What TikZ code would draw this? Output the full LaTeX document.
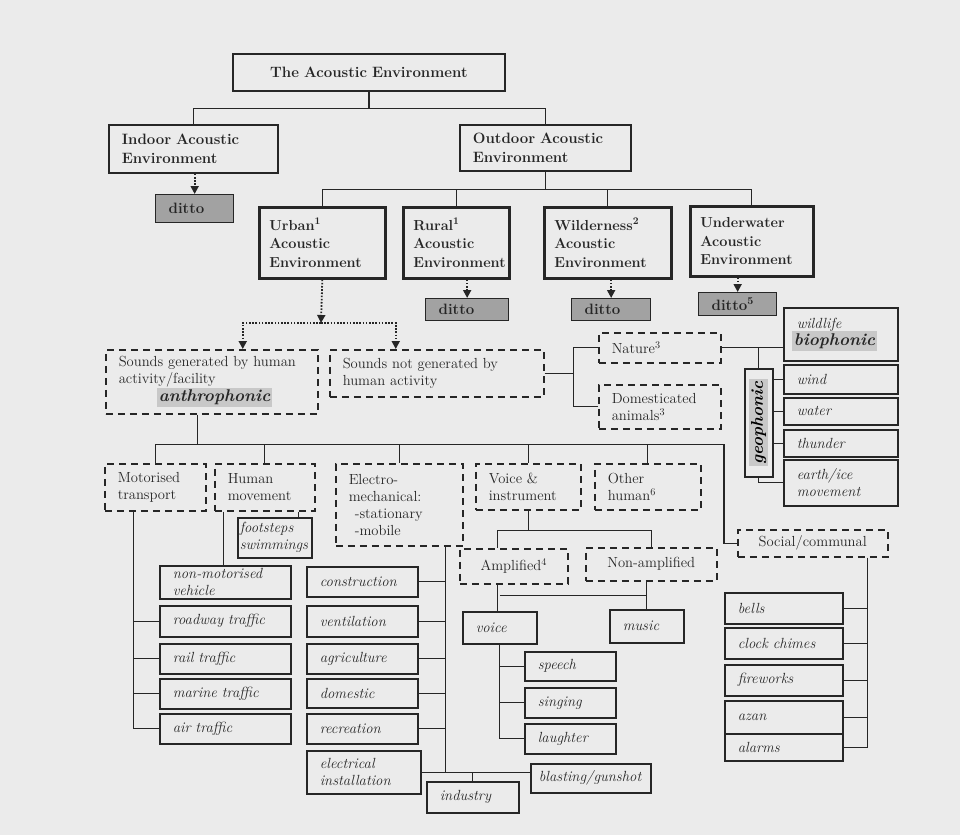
\documentclass[tikz,border=0pt]{standalone}
\usetikzlibrary{arrows.meta}
\definecolor{ink}{HTML}{262626}
\definecolor{page}{HTML}{EBEBEB}
\definecolor{shade}{HTML}{A2A2A2}
\definecolor{hl}{HTML}{C8C8C8}
\setlength{\fboxsep}{2pt}
\newcommand{\hlfont}{\fontsize{17}{19}\selectfont\bfseries\itshape}
\tikzset{
  sz/.code 2 args={\pgfmathsetmacro\tw{#1-2*\pgfkeysvalueof{/pgf/inner xsep}}%
    \pgfkeysalso{minimum width=#1pt,minimum height=#2pt,text width=\tw pt}},
  conn/.style={draw=ink,line width=1.2pt},
  dotarr/.style={draw=ink,line width=1.8pt,dash pattern=on 1.6pt off 1.6pt,-{Triangle[width=8pt,length=8pt]}},
  base/.style={draw=ink,anchor=north west,inner xsep=13pt,inner ysep=2pt,align=left,text=ink,font=\fontsize{14.6}{17}\selectfont},
  envbox/.style={base,line width=1.8pt,font=\fontsize{15}{18.5}\selectfont\bfseries},
  subenv/.style={envbox,line width=2.6pt,inner xsep=10pt,font=\fontsize{14.5}{18.5}\selectfont\bfseries},
  dittobox/.style={envbox,fill=shade,line width=1.3pt},
  grp/.style={base,line width=1.5pt,dash pattern=on 7pt off 5pt},
  leaf/.style={base,line width=1.5pt,font=\fontsize{14.7}{17}\selectfont\itshape},
}
\begin{document}
\begin{tikzpicture}[x=1pt,y=-1pt]
\path[use as bounding box,fill=page] (0,0) rectangle (960,835);

\node[envbox,align=center,sz={272}{37}] (top) at (232,53) {The Acoustic Environment};
\node[envbox,sz={169}{48}] (indoor) at (108,124) {Indoor Acoustic\\Environment};
\node[envbox,sz={171}{46}] (outdoor) at (459,124) {Outdoor Acoustic\\Environment};
\node[dittobox,sz={78}{28}] (ditto0) at (155,194) {ditto};
\node[subenv,sz={126}{71}] (urban) at (258,206) {Urban\textsuperscript{1}\\Acoustic\\Environment};
\node[subenv,sz={106}{71}] (rural) at (402,206) {Rural\textsuperscript{1}\\Acoustic\\Environment};
\node[subenv,sz={127}{71}] (wild) at (543,206) {Wilderness\textsuperscript{2}\\Acoustic\\Environment};
\node[subenv,sz={123}{70}] (under) at (689,205) {Underwater\\Acoustic\\Environment};
\node[dittobox,sz={83}{22}] (ditto1) at (425,298) {ditto};
\node[dittobox,sz={79}{22}] (ditto2) at (571,298) {ditto};
\node[dittobox,sz={78}{23}] (ditto3) at (698,292) {ditto\textsuperscript{5}};

\node[grp,sz={212}{64}] (sg) at (105,349) {Sounds generated by human\\activity/facility\\\hspace*{38pt}\colorbox{hl}{\hlfont anthrophonic}};
\node[grp,sz={214}{47}] (sng) at (329,349) {Sounds not generated by\\human activity};
\node[grp,sz={122}{30}] (nature) at (598,332) {Nature\textsuperscript{3}};
\node[grp,sz={122}{44}] (dom) at (598,384) {Domesticated\\animals\textsuperscript{3}};
\node[leaf,sz={114}{53}] (wildlife) at (783,307) {wildlife\\\hspace*{-5pt}\colorbox{hl}{\hlfont biophonic}};
\node[draw=ink,line width=1.5pt,anchor=north west,inner sep=0pt,minimum width=28pt,minimum height=108pt] (geo) at (744,368) {\rotatebox{90}{\colorbox{hl}{\hlfont geophonic}}};
\node[leaf,sz={114}{29}] (wind) at (783,364) {wind};
\node[leaf,sz={114}{27}] (water) at (783,397) {water};
\node[leaf,sz={114}{27}] (thunder) at (783,429) {thunder};
\node[leaf,sz={114}{46}] (earth) at (783,459) {earth/ice\\movement};

\node[grp,sz={101}{47}] (motor) at (104,463) {Motorised\\transport};
\node[grp,sz={100}{47}] (human) at (214,463) {Human\\movement};
\node[grp,sz={127}{82}] (electro) at (335,463) {Electro-\\mechanical:\\\hspace*{6pt}-stationary\\\hspace*{6pt}-mobile};
\node[grp,sz={105}{46}] (voicei) at (475,463) {Voice \&\\instrument};
\node[grp,sz={106}{46}] (other) at (594,463) {Other\\human\textsuperscript{6}};
\node[grp,align=center,sz={150}{27}] (social) at (737,529) {Social/communal};
\node[leaf,inner xsep=2pt,sz={74}{40}] (foot) at (237,517) {footsteps\\swimmings};

\node[leaf,sz={131}{33}] (nonmot) at (159,565) {non-motorised\\vehicle};
\node[leaf,sz={131}{31}] (road) at (159,605) {roadway traffic};
\node[leaf,sz={131}{30}] (rail) at (159,643) {rail traffic};
\node[leaf,sz={131}{30}] (marine) at (159,678) {marine traffic};
\node[leaf,sz={131}{30}] (air) at (159,713) {air traffic};

\node[leaf,sz={111}{30}] (constr) at (306,566) {construction};
\node[leaf,sz={111}{31}] (vent) at (306,605) {ventilation};
\node[leaf,sz={111}{30}] (agri) at (306,643) {agriculture};
\node[leaf,sz={111}{29}] (dome) at (306,678) {domestic};
\node[leaf,sz={111}{30}] (recr) at (306,713) {recreation};
\node[leaf,sz={114}{43}] (elec) at (306,750) {electrical\\installation};
\node[leaf,sz={92}{31}] (indus) at (426,781) {industry};
\node[leaf,inner xsep=8pt,sz={120}{29}] (blast) at (530,763) {blasting/gunshot};

\node[grp,align=center,sz={108}{35}] (amp) at (459,548) {Amplified\textsuperscript{4}};
\node[grp,align=center,sz={131}{33}] (namp) at (585,547) {Non-amplified};
\node[leaf,sz={74}{32}] (voice) at (462,611) {voice};
\node[leaf,sz={74}{33}] (music) at (609,609) {music};
\node[leaf,sz={91}{29}] (speech) at (524,651) {speech};
\node[leaf,sz={91}{30}] (singing) at (524,687) {singing};
\node[leaf,sz={91}{30}] (laugh) at (524,723) {laughter};

\node[leaf,sz={118}{31}] (bells) at (724,592) {bells};
\node[leaf,sz={118}{31}] (clock) at (724,627) {clock chimes};
\node[leaf,sz={118}{31}] (fire) at (724,664) {fireworks};
\node[leaf,sz={118}{33}] (azan) at (724,700) {azan};
\node[leaf,sz={118}{27}] (alarms) at (724,733) {alarms};

\draw[conn] (top.south) -- ++(0,17) -| (indoor.north);
\draw[conn] (top.south) -- ++(0,17) -| (outdoor.north);
\foreach \n in {urban,rural,wild,under}
  \draw[conn] (outdoor.south) -- ++(0,18) -| (\n.north);
\draw[dotarr] (ditto0.north |- indoor.south) -- (ditto0.north);
\draw[dotarr] (ditto1.north |- rural.south) -- (ditto1.north);
\draw[dotarr] (ditto2.north |- wild.south) -- (ditto2.north);
\draw[dotarr] (ditto3.north |- under.south) -- (ditto3.north);
\coordinate (split) at (321,323);
\draw[dotarr] (urban.south) -- (split);
\draw[dotarr] (split) -| ([xshift=31pt]sg.north);
\draw[dotarr] (split) -| ([xshift=-41pt]sng.north);

\draw[conn] (sng.east) -- ++(29,0) coordinate (nj) |- (nature.west);
\draw[conn] (nj) |- (dom.west);
\draw[conn] (nature.east) -- (wildlife.west |- nature.east);
\draw[conn] (geo.north |- nature.east) -- (geo.north);
\foreach \n in {wind,water,thunder}
  \draw[conn] (geo.east |- \n.west) -- (\n.west);
\draw[conn] (geo.south) |- (earth.west);

\coordinate (ab) at ([xshift=-14pt,yshift=-30pt]sg.south);
\draw[conn] ([xshift=-14pt]sg.south) -- (ab);
\foreach \n in {motor,human,electro,voicei,other}
  \draw[conn] (ab) -| (\n.north);
\draw[conn] (ab) -| ([xshift=-13pt]social.west) -- (social.west);

\coordinate (mv) at ([xshift=-22pt]motor.south);
\draw[conn] (mv) |- (air.west);
\foreach \n in {road,rail,marine}
  \draw[conn] (mv |- \n.west) -- (\n.west);
\draw[conn] ([xshift=-41pt]human.south) -- ([xshift=-41pt]human.south |- nonmot.north);
\draw[conn] ([xshift=34pt]human.south) -- ([xshift=34pt]human.south |- foot.north);

\coordinate (ev) at ([xshift=46pt]electro.south);
\draw[conn] (ev) |- (elec.east);
\foreach \n in {constr,vent,agri,dome,recr}
  \draw[conn] (\n.east) -- (\n.east -| ev);
\draw[conn] (elec.east) -- (blast.west |- elec.east);
\draw[conn] (indus.north) -- (indus.north |- elec.east);

\draw[conn] (voicei.south) -- ++(0,20) coordinate (vj);
\draw[conn] (vj) -| ([xshift=-16pt]amp.north);
\draw[conn] (vj) -| (namp.north);
\coordinate (amjoin) at ([yshift=-11pt]amp.south);
\draw[conn] ([xshift=-16pt]amp.south) -- ([xshift=-16pt]amp.south |- voice.north);
\draw[conn] (music.north |- namp.south) -- (music.north);
\draw[conn] (voice.north |- amjoin) -- (music.north |- amjoin);
\draw[conn] (voice.south) |- (laugh.west);
\foreach \n in {speech,singing}
  \draw[conn] (voice.south |- \n.west) -- (\n.west);

\coordinate (sv) at ([xshift=55pt]social.south);
\draw[conn] (sv) |- (alarms.east);
\foreach \n in {bells,clock,fire,azan}
  \draw[conn] (\n.east) -- (\n.east -| sv);
\end{tikzpicture}
\end{document}
